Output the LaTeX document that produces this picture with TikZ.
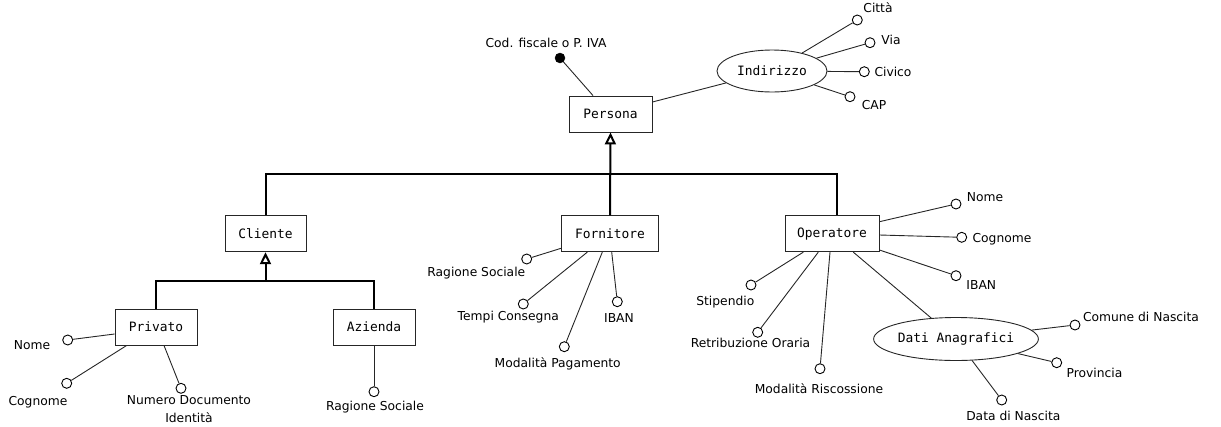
\documentclass[tikz,border=0pt]{standalone}
\usepackage{fontspec}
\setmainfont{DejaVu Sans}
\setmonofont{DejaVu Sans Mono}
\usetikzlibrary{arrows.meta,shapes.geometric}
\tikzset{
  ent/.style={draw=black!85, line width=0.9pt, fill=white, rectangle, inner sep=0pt,
    minimum height=36pt, font=\ttfamily\fontsize{12.9}{14}\selectfont},
  comp/.style={draw=black!85, line width=0.9pt, fill=white, ellipse, inner sep=0pt,
    font=\ttfamily\fontsize{12.9}{14}\selectfont},
  attr/.style={draw=black, line width=0.9pt, fill=white, circle, inner sep=0pt, minimum size=10pt},
  keyattr/.style={draw=black, fill=black, circle, inner sep=0pt, minimum size=10pt},
  lab/.style={inner sep=0pt, font=\fontsize{12.3}{17.5}\selectfont, align=center},
  conn/.style={line width=0.9pt, black!85},
  gen/.style={line width=2pt, black},
  genarrow/.style={gen, -{Triangle[open, length=12pt, width=11pt]}},
}
\begin{document}
\begin{tikzpicture}[x=1pt,y=-1pt]
\useasboundingbox (0,0) rectangle (1221,426);

% entities
\node[ent, minimum width=83pt] (persona) at (610.5,114) {Persona};
\node[ent, minimum width=81pt] (cliente) at (265.5,233.7) {Cliente};
\node[ent, minimum width=97pt] (fornitore) at (610,233.7) {Fornitore};
\node[ent, minimum width=94pt] (operatore) at (832,233.7) {Operatore};
\node[ent, minimum width=82pt] (privato) at (156,327) {Privato};
\node[ent, minimum width=82pt] (azienda) at (374,327) {Azienda};

% composite attributes
\node[comp, minimum width=110pt, minimum height=42pt] (ind) at (772,71) {Indirizzo};
\node[comp, minimum width=152pt, minimum height=43pt] (dati) at (956,339) {Dati Anagrafici};

% generalizations
\coordinate (g1) at (610.5,174);
\coordinate (g2) at (265.5,280.7);
\draw[gen] (cliente.north) |- (g1) -| ([xshift=5pt]operatore.north);
\draw[genarrow] (fornitore.north) -- (persona.south);
\draw[gen] (privato.north) |- (g2) -| (azienda.north);
\draw[genarrow] (g2) -- (cliente.south);

% Persona
\node[keyattr] (cf) at (560,58) {};
\node[lab] (cfl) at (546,43) {Cod. fiscale o P. IVA};
\draw[conn] ([xshift=-17.5pt]persona.north) -- (cf);
\draw[conn] ([yshift=12pt]persona.east) -- (ind);

% Indirizzo
\node[attr] (citta) at (857.3,20) {};
\node[lab] (cittal) at (878,8) {Città};
\node[attr] (via) at (870,42.7) {};
\node[lab] (vial) at (891,40) {Via};
\node[attr] (civico) at (864.3,71.7) {};
\node[lab] (civicol) at (893,72) {Civico};
\node[attr] (cap) at (850,96.7) {};
\node[lab] (capl) at (874,105.5) {CAP};
\draw[conn] (ind) -- (citta);
\draw[conn] (ind) -- (via);
\draw[conn] (ind) -- (civico);
\draw[conn] (ind) -- (cap);

% Privato
\node[attr] (pnome) at (67.7,340) {};
\node[lab] (pnomel) at (32,345) {Nome};
\node[attr] (pcogn) at (66.7,383.3) {};
\node[lab] (pcognl) at (38,402) {Cognome};
\node[attr] (pnum) at (181,388.3) {};
\node[lab] (pnuml) at (189,409) {Numero Documento\\Identità};
\draw[conn] ([yshift=-7pt]privato.west) -- (pnome);
\draw[conn] ([xshift=-29.3pt]privato.south) -- (pcogn);
\draw[conn] ([xshift=8pt]privato.south) -- (pnum);

% Azienda
\node[attr] (arag) at (374,391.7) {};
\node[lab] (aragl) at (375,407.5) {Ragione Sociale};
\draw[conn] (azienda.south) -- (arag);

% Fornitore
\node[attr] (frag) at (526.7,259) {};
\node[lab] (fragl) at (476.3,273.3) {Ragione Sociale};
\node[attr] (ftempi) at (523.3,304) {};
\node[lab] (ftempil) at (508.3,316.7) {Tempi Consegna};
\node[attr] (fmod) at (564.3,346.7) {};
\node[lab] (fmodl) at (557.7,364) {Modalità Pagamento};
\node[attr] (fiban) at (617.3,301.7) {};
\node[lab] (fibanl) at (619,318.3) {IBAN};
\draw[conn] ([yshift=-14.6pt]fornitore.west) -- (frag);
\draw[conn] ([xshift=-22.7pt]fornitore.south) -- (ftempi);
\draw[conn] ([xshift=-7.7pt]fornitore.south) -- (fmod);
\draw[conn] ([xshift=1.7pt]fornitore.south) -- (fiban);

% Operatore
\node[attr] (onome) at (956,204) {};
\node[lab] (onomel) at (985,197.3) {Nome};
\node[attr] (ocogn) at (961.7,237.3) {};
\node[lab] (ocognl) at (1002,239) {Cognome};
\node[attr] (oiban) at (956,275.7) {};
\node[lab] (oibanl) at (981.3,285.5) {IBAN};
\node[attr] (ostip) at (751,285) {};
\node[lab] (ostipl) at (725.3,301.7) {Stipendio};
\node[attr] (oretr) at (757.7,332.3) {};
\node[lab] (oretrl) at (750.5,343.3) {Retribuzione Oraria};
\node[attr] (omod) at (820,368.7) {};
\node[lab] (omodl) at (819,389) {Modalità Riscossione};
\draw[conn] ([yshift=12pt]operatore.east) -- (onome);
\draw[conn] ([yshift=-1.3pt]operatore.east) -- (ocogn);
\draw[conn] ([yshift=-16.3pt]operatore.east) -- (oiban);
\draw[conn] ([xshift=-28.7pt]operatore.south) -- (ostip);
\draw[conn] ([xshift=-13.7pt]operatore.south) -- (oretr);
\draw[conn] ([xshift=-2pt]operatore.south) -- (omod);
\draw[conn] ([xshift=21.3pt]operatore.south) -- (dati);

% Dati Anagrafici
\node[attr] (dcom) at (1075,325) {};
\node[lab] (dcoml) at (1141,317.3) {Comune di Nascita};
\node[attr] (dprov) at (1056.7,362.7) {};
\node[lab] (dprovl) at (1094.5,372.7) {Provincia};
\node[attr] (ddata) at (1001.7,400) {};
\node[lab] (ddatal) at (1013.3,415.7) {Data di Nascita};
\draw[conn] (dati) -- (dcom);
\draw[conn] (dati) -- (dprov);
\draw[conn] (dati) -- (ddata);
\end{tikzpicture}
\end{document}
